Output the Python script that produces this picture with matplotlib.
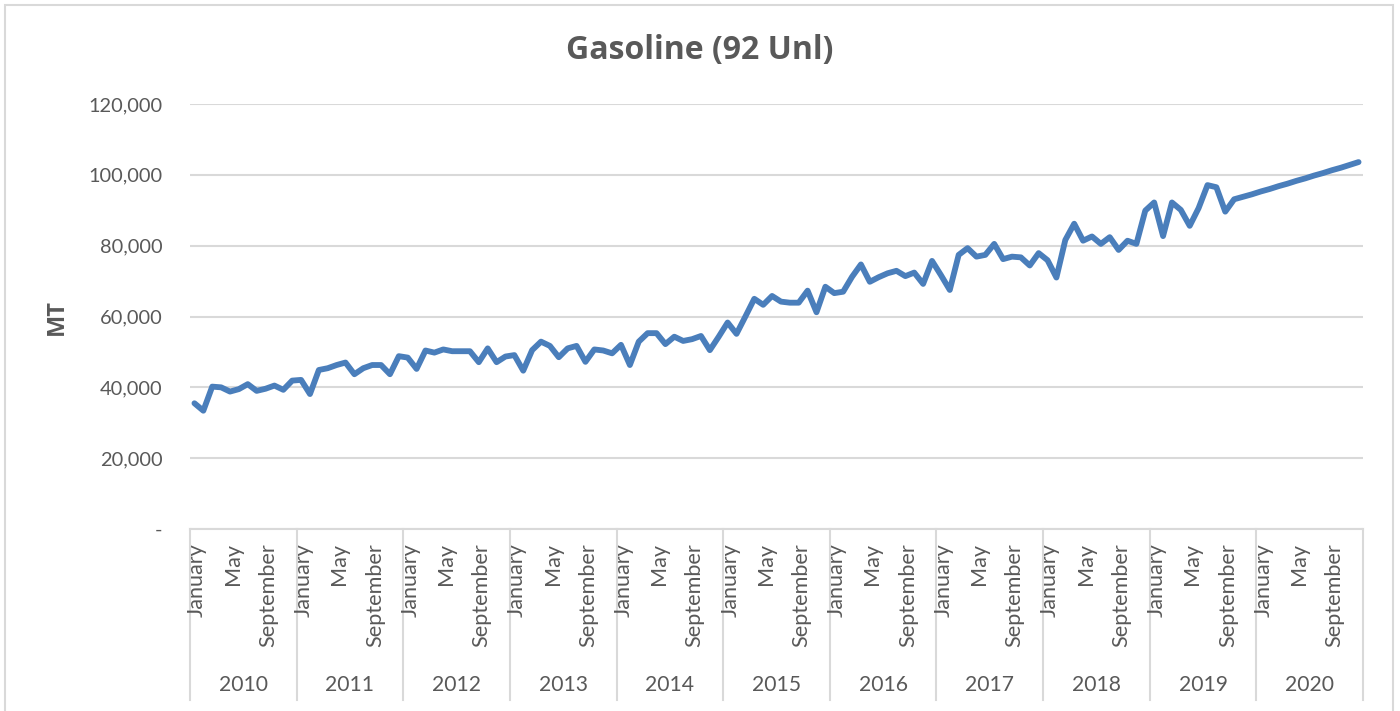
import numpy as np
import matplotlib
matplotlib.use("Agg")
import matplotlib.pyplot as plt
from matplotlib.patches import Rectangle
from matplotlib.lines import Line2D

years = ["2010", "2011", "2012", "2013", "2014", "2015", "2016", "2017", "2018", "2019", "2020"]
month_labels = {0: "January", 4: "May", 8: "September"}   # labelled months in each year

# Monthly volumes (MT), one list per year
mt_2010 = [35500, 33400, 40200, 40000, 38800, 39500, 40900, 39000, 39600, 40500, 39300, 41900]
mt_2011 = [42100, 38100, 44900, 45400, 46300, 47000, 43700, 45400, 46300, 46300, 43700, 48800]
mt_2012 = [48400, 45200, 50400, 49800, 50700, 50200, 50200, 50200, 47100, 51000, 47100, 48700]
mt_2013 = [49100, 44700, 50500, 52900, 51700, 48500, 51000, 51700, 47200, 50700, 50400, 49600]
mt_2014 = [52000, 46300, 52900, 55300, 55300, 52200, 54300, 53100, 53600, 54500, 50500, 54300]
mt_2015 = [58300, 55100, 60000, 65000, 63300, 65800, 64200, 63900, 63900, 67300, 61200, 68400]
mt_2016 = [66600, 67000, 71200, 74700, 69800, 71100, 72200, 72900, 71400, 72400, 69200, 75700]
mt_2017 = [71700, 67500, 77400, 79300, 76900, 77400, 80500, 76200, 76900, 76700, 74400, 77900]
mt_2018 = [75900, 71000, 81600, 86200, 81400, 82600, 80500, 82400, 78800, 81400, 80500, 89900]
mt_2019 = [92200, 82700, 92200, 90100, 85600, 90600, 97100, 96500, 89600, 93100, 93800, 94500]
mt_2020 = [95300, 96000, 96800, 97500, 98300, 99000, 99800, 100500, 101300, 102000, 102800, 103600]

values = (mt_2010 + mt_2011 + mt_2012 + mt_2013 + mt_2014 + mt_2015 + mt_2016
          + mt_2017 + mt_2018 + mt_2019 + mt_2020)

text_col = "#595959"
grid_col = "#D9D9D9"
plt.rcParams["font.family"] = ["Lato", "DejaVu Sans"]

fig = plt.figure(figsize=(14, 7.11), dpi=100)
ax = fig.add_axes([190 / 1400, 182 / 711, 1173 / 1400, 425 / 711])

x = np.arange(len(values))
ax.plot(x, values, color="#4A7EBB", lw=4.2, solid_joinstyle="round", solid_capstyle="round")

ax.set_xlim(-0.5, len(values) - 0.5)
ax.set_ylim(0, 120000)
ax.set_yticks(range(0, 120001, 20000))
ax.set_yticklabels(["-" if v == 0 else f"{v:,}" for v in range(0, 120001, 20000)])
ax.yaxis.grid(True, color=grid_col, lw=1.5)
ax.set_axisbelow(True)
ax.tick_params(axis="y", length=0, pad=20, labelsize=14.4, labelcolor=text_col)
ax.set_xticks([])
for s in ["left", "right", "top"]:
    ax.spines[s].set_visible(False)
ax.spines["bottom"].set_color(grid_col)
ax.spines["bottom"].set_linewidth(1.5)

# two level category axis: months then years
tr = ax.get_xaxis_transform()
for k, yr in enumerate(years):
    for m, name in month_labels.items():
        ax.text(12 * k + m + 0.3, -0.033, name, transform=tr, rotation=90,
                ha="center", va="top", fontsize=15.6, color=text_col)
    ax.text(12 * k + 5.5, -0.367, yr, transform=tr, ha="center", va="center",
            fontsize=15.2, color=text_col)
for k in range(len(years) + 1):
    ax.add_line(Line2D([12 * k - 0.5] * 2, [0, -0.402], transform=tr,
                       color=grid_col, lw=1.5, clip_on=False))

fig.text(0.5, (711 - 50) / 711, "Gasoline (92 Unl)", ha="center", va="center",
         fontsize=23, fontweight="bold", color=text_col, family=["Open Sans", "DejaVu Sans"])
fig.text(57 / 1400, (711 - 317) / 711, "MT", rotation=90, ha="center", va="center",
         fontsize=17, fontweight="bold", color=text_col, family=["Open Sans", "DejaVu Sans"])

# chart border
fig.patches.append(Rectangle((5 / 1400, -0.05), 1388 / 1400, 1.05 - 5 / 711,
                             transform=fig.transFigure, fill=False,
                             edgecolor=grid_col, lw=1.5))

fig.savefig("out.png", dpi=100)
